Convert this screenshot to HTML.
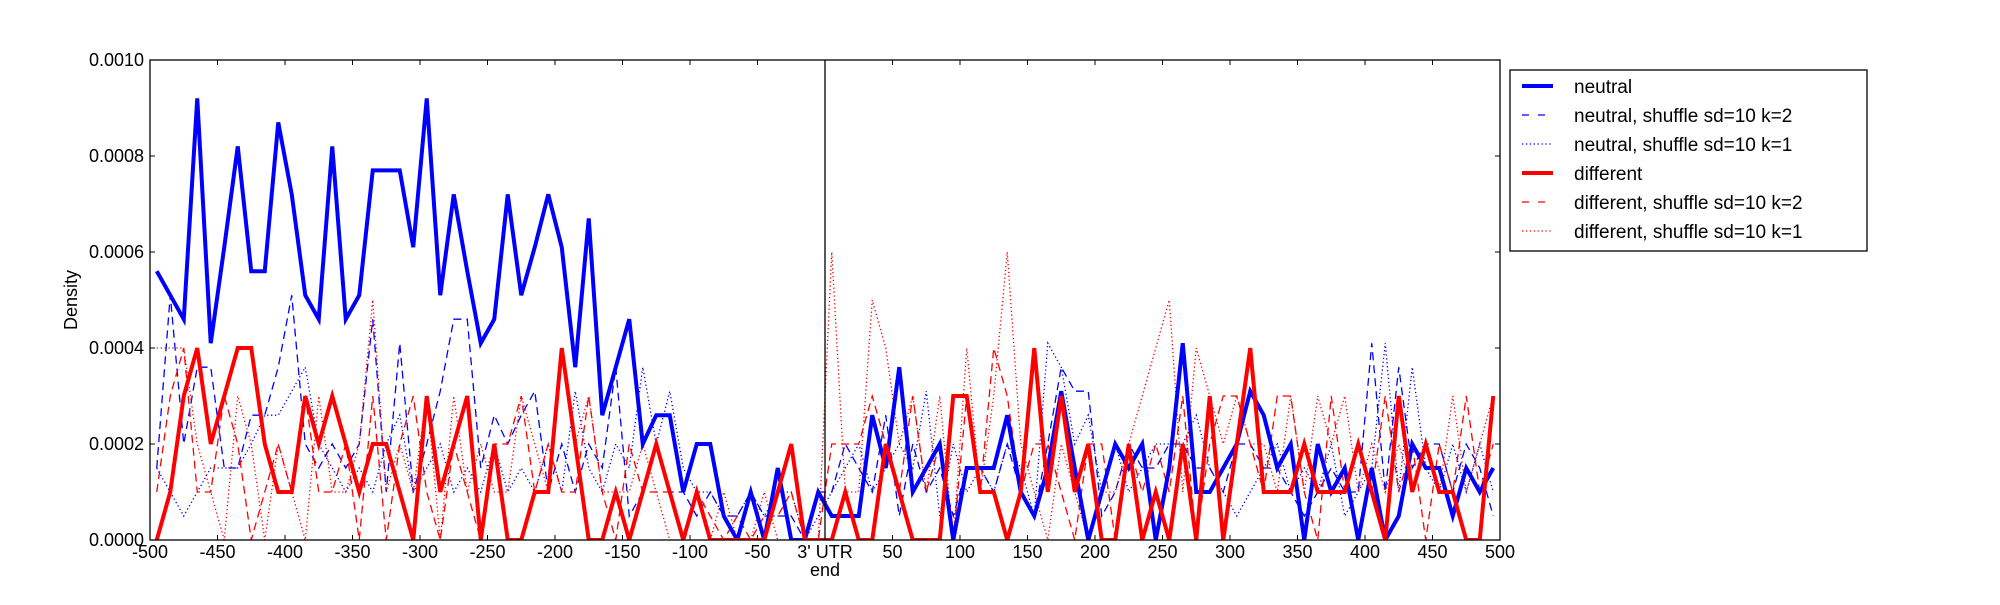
<!DOCTYPE html>
<html><head><meta charset="utf-8"><style>
html,body{margin:0;padding:0;background:#fff;}
svg text{font-family:"Liberation Sans","DejaVu Sans",sans-serif;}
</style></head><body>
<svg id="chart" width="2000" height="600" viewBox="0 0 2000 600" xmlns="http://www.w3.org/2000/svg">
<g id="plot"></g>
</svg>
<script>
const binCenters = [];
for (let i = 0; i < 100; i++) binCenters.push(-495 + i * 10);
const xTickValues = [-500,-450,-400,-350,-300,-250,-200,-150,-100,-50,0,50,100,150,200,250,300,350,400,450,500];
const xTickLabels = ["-500","-450","-400","-350","-300","-250","-200","-150","-100","-50","3' UTR","50","100","150","200","250","300","350","400","450","500"];
const yTickValues = [0,0.0002,0.0004,0.0006,0.0008,0.0010];
const yTickLabels = ["0.0000","0.0002","0.0004","0.0006","0.0008","0.0010"];
// values in units of 1e-4
const neutral = [5.6,5.1,4.6,9.2,4.1,6.1,8.2,5.6,5.6,8.7, 7.2,5.1,4.6,8.2,4.6,5.1,7.7,7.7,7.7,6.1, 9.2,5.1,7.2,5.6,4.1,4.6,7.2,5.1,6.1,7.2, 6.1,3.6,6.7,2.6,3.6,4.6,2.0,2.6,2.6,1.0, 2.0,2.0,0.5,0,1.0,0,1.5,0,0,1.0, 0.5,0.5,0.5,2.6,1.5,3.6,1.0,1.5,2.0,0, 1.5,1.5,1.5,2.6,1.0,0.5,1.5,3.1,1.5,0, 1.0,2.0,1.5,2.0,0,1.5,4.1,1.0,1.0,1.5, 2.0,3.1,2.6,1.5,2.0,0,2.0,1.0,1.5,0, 1.5,0,0.5,2.0,1.5,1.5,0.5,1.5,1.0,1.5];
const neutralK2 = [1.5,5.1,2.0,3.6,3.6,1.5,1.5,2.6,2.6,3.6, 5.1,2.0,1.5,2.0,1.5,2.0,4.6,1.0,4.1,1.0, 2.0,3.1,4.6,4.6,1.5,2.6,2.0,2.6,3.1,1.0, 2.0,1.0,2.0,1.5,3.6,0.5,1.0,2.0,1.0,1.0, 0.5,1.0,0.5,0.5,1.0,0.5,0.5,0.5,0,1.0, 1.0,2.0,1.5,1.0,2.6,0.5,2.0,1.0,1.5,0.5, 1.5,1.5,1.0,2.0,1.0,0.5,2.0,3.6,3.1,3.1, 0.5,1.0,2.0,1.5,1.5,2.0,2.0,1.5,1.5,1.0, 2.0,2.0,1.5,1.5,1.0,0.5,1.0,1.5,1.0,1.0, 4.1,1.0,3.6,1.5,2.0,2.0,1.0,2.0,1.5,0.5];
const neutralK1 = [1.5,1.0,0.5,1.0,1.5,1.5,1.5,2.0,2.6,2.6, 3.1,3.6,2.0,1.5,1.0,1.5,1.0,2.0,2.6,1.0, 1.5,2.0,1.0,1.5,1.0,2.0,1.0,1.5,1.0,2.0, 1.0,3.1,1.5,1.0,2.0,1.5,3.6,2.0,3.1,1.5, 1.0,1.0,0.5,0.5,1.0,0.5,1.0,1.0,0,0.5, 1.0,1.5,2.0,1.0,1.5,2.0,1.5,3.1,0.5,2.0, 1.0,1.5,1.0,2.0,1.5,0.5,4.1,3.6,2.0,2.6, 1.0,2.0,1.0,1.5,2.0,2.0,2.0,2.6,1.5,1.0, 0.5,1.0,1.5,2.0,1.0,1.5,1.0,2.0,0.5,1.0, 1.5,4.1,1.0,3.6,1.5,1.0,2.0,1.0,2.0,1.0];
const different = [0,1,3,4,2,3,4,4,2,1, 1,3,2,3,2,1,2,2,1,0, 3,1,2,3,0,2,0,0,1,1, 4,2,0,0,1,0,1,2,1,0, 1,0,0,0,0,0,1,2,0,0, 0,1,0,0,2,1,0,0,0,3, 3,1,1,0,1,4,1,3,1,2, 0,0,2,0,1,0,2,0,3,0, 2,4,1,1,1,2,1,1,1,2, 1,0,3,1,2,1,1,0,0,3];
const differentK2 = [1.0,3.0,4.0,1.0,1.0,3.0,2.0,0,1.0,2.0, 1.0,3.0,1.0,1.0,2.0,0,3.0,0,2.0,3.0, 1.0,0,2.0,1.0,0,2.0,2.0,3.0,1.0,2.0, 1.0,1.0,3.0,1.0,0,2.0,1.0,1.0,1.0,0, 1.0,0.5,0,0.5,0,0.5,0.5,1.0,0,0, 2.0,2.0,2.0,3.0,2.0,1.0,3.0,1.0,2.0,0, 3.0,1.0,4.0,3.0,1.0,2.0,2.0,1.0,0,2.0, 2.0,0,2.0,1.0,2.0,1.0,3.0,0,2.0,3.0, 3.0,2.0,1.0,3.0,3.0,1.0,0,3.0,1.0,2.0, 1.0,3.0,1.0,2.0,0,2.0,1.0,3.0,1.0,2.0];
const differentK1 = [4.0,4.0,4.0,2.0,1.0,0,3.0,2.0,0,2.0, 1.0,0,3.0,1.0,1.0,2.0,5.0,1.0,2.0,1.0, 3.0,0,3.0,1.0,2.0,1.0,1.0,3.0,2.0,1.0, 4.0,2.0,3.0,1.0,1.0,1.0,2.0,1.0,0,0, 1.0,0,1.0,0,0,1.0,0,0,0,0, 6.0,1.0,1.0,5.0,4.0,2.0,3.0,1.0,3.0,0, 4.0,1.0,3.0,6.0,2.0,1.0,0,2.0,1.0,0, 1.0,1.0,2.0,3.0,4.0,5.0,1.0,4.0,3.0,2.0, 3.0,2.0,2.0,1.0,3.0,1.0,3.0,2.0,3.0,1.0, 2.0,1.0,2.0,1.0,2.0,1.0,3.0,1.0,2.0,3.0];

const NS = "http://www.w3.org/2000/svg";
const L = 150, R = 1500, T = 60, B = 540;
const xScale = v => L + (v + 500) / 1000 * (R - L);
const yScale = v => B - v / 0.001 * (B - T);
const g = document.getElementById('plot');
function mk(tag, attrs, parent) {
  const e = document.createElementNS(NS, tag);
  for (const k in attrs) e.setAttribute(k, attrs[k]);
  (parent || g).appendChild(e);
  return e;
}
const seriesDefs = [
  {vals: neutralK2, color: '#0000ff', w: 1.3, dash: '8,5', name: 'neutral-shuffle-k2-line'},
  {vals: neutralK1, color: '#0000ff', w: 1.3, dash: '1.3,2.6', name: 'neutral-shuffle-k1-line'},
  {vals: differentK2, color: '#ff0000', w: 1.3, dash: '8,5', name: 'different-shuffle-k2-line'},
  {vals: differentK1, color: '#ff0000', w: 1.3, dash: '1.3,2.6', name: 'different-shuffle-k1-line'},
  {vals: neutral, color: '#0000ff', w: 4, dash: '', name: 'neutral-line'},
  {vals: different, color: '#ff0000', w: 4, dash: '', name: 'different-line'}
];
// clip
const defs = mk('defs', {});
const cp = mk('clipPath', {id: 'clip'}, defs);
mk('rect', {x: L, y: T, width: R - L, height: B - T}, cp);
const lines = mk('g', {'clip-path': 'url(#clip)'});


seriesDefs.forEach(s => {
  const pts = s.vals.map((v, i) => xScale(binCenters[i]).toFixed(2) + ',' + yScale(v * 1e-4).toFixed(2)).join(' ');
  const p = mk('polyline', {points: pts, fill: 'none', stroke: s.color, 'stroke-width': s.w, 'stroke-linejoin': 'miter', 'stroke-dasharray': s.dash}, lines);
  
  
});
// vertical line at 0
const vl = mk('line', {x1: xScale(0), x2: xScale(0), y1: T, y2: B, stroke: '#000', 'stroke-width': 1.3});


// frame
const fr = mk('rect', {x: L, y: T, width: R - L, height: B - T, fill: 'none', stroke: '#000', 'stroke-width': 1.3});


// x ticks
xTickValues.forEach((v, i) => {
  const x = xScale(v);
  mk('line', {x1: x, x2: x, y1: B, y2: B - 5, stroke: '#000', 'stroke-width': 1});
  mk('line', {x1: x, x2: x, y1: T, y2: T + 5, stroke: '#000', 'stroke-width': 1});
  const t = mk('text', {x: x, y: 558, 'font-size': 18, 'text-anchor': 'middle', fill: '#000'});
  t.textContent = xTickLabels[i];
  
  
});
const endT = mk('text', {x: xScale(0), y: 576, 'font-size': 18, 'text-anchor': 'middle', fill: '#000'});
endT.textContent = 'end';


// y ticks
yTickValues.forEach((v, i) => {
  const y = yScale(v);
  mk('line', {x1: L, x2: L + 5, y1: y, y2: y, stroke: '#000', 'stroke-width': 1});
  mk('line', {x1: R, x2: R - 5, y1: y, y2: y, stroke: '#000', 'stroke-width': 1});
  const t = mk('text', {x: 144, y: y + 6, 'font-size': 18, 'text-anchor': 'end', fill: '#000'});
  t.textContent = yTickLabels[i];
  
  
});
const yt = mk('text', {x: 0, y: 0, 'font-size': 18, 'text-anchor': 'middle', fill: '#000', transform: 'translate(77,300) rotate(-90)'});
yt.textContent = 'Density';


// legend
const lg = mk('g', {});


mk('rect', {x: 1510, y: 70, width: 357, height: 181, fill: '#fff', stroke: '#000', 'stroke-width': 1.3}, lg);
const legendLabels = ['neutral', 'neutral, shuffle sd=10 k=2', 'neutral, shuffle sd=10 k=1', 'different', 'different, shuffle sd=10 k=2', 'different, shuffle sd=10 k=1'];
const legendStyle = [seriesDefs[4], seriesDefs[0], seriesDefs[1], seriesDefs[5], seriesDefs[2], seriesDefs[3]];
const legendY = [86, 115, 144, 173, 202, 231];
legendLabels.forEach((lab, i) => {
  const s = legendStyle[i];
  const e = mk('g', {}, lg);
  
  
  mk('line', {x1: 1522, x2: 1553, y1: legendY[i], y2: legendY[i], stroke: s.color, 'stroke-width': s.w, 'stroke-dasharray': s.dash === '8,5' ? '7,9' : s.dash}, e);
  const t = mk('text', {x: 1574, y: legendY[i] + 7, 'font-size': 19, fill: '#000'}, e);
  t.textContent = lab;
});
</script>
</body></html>
